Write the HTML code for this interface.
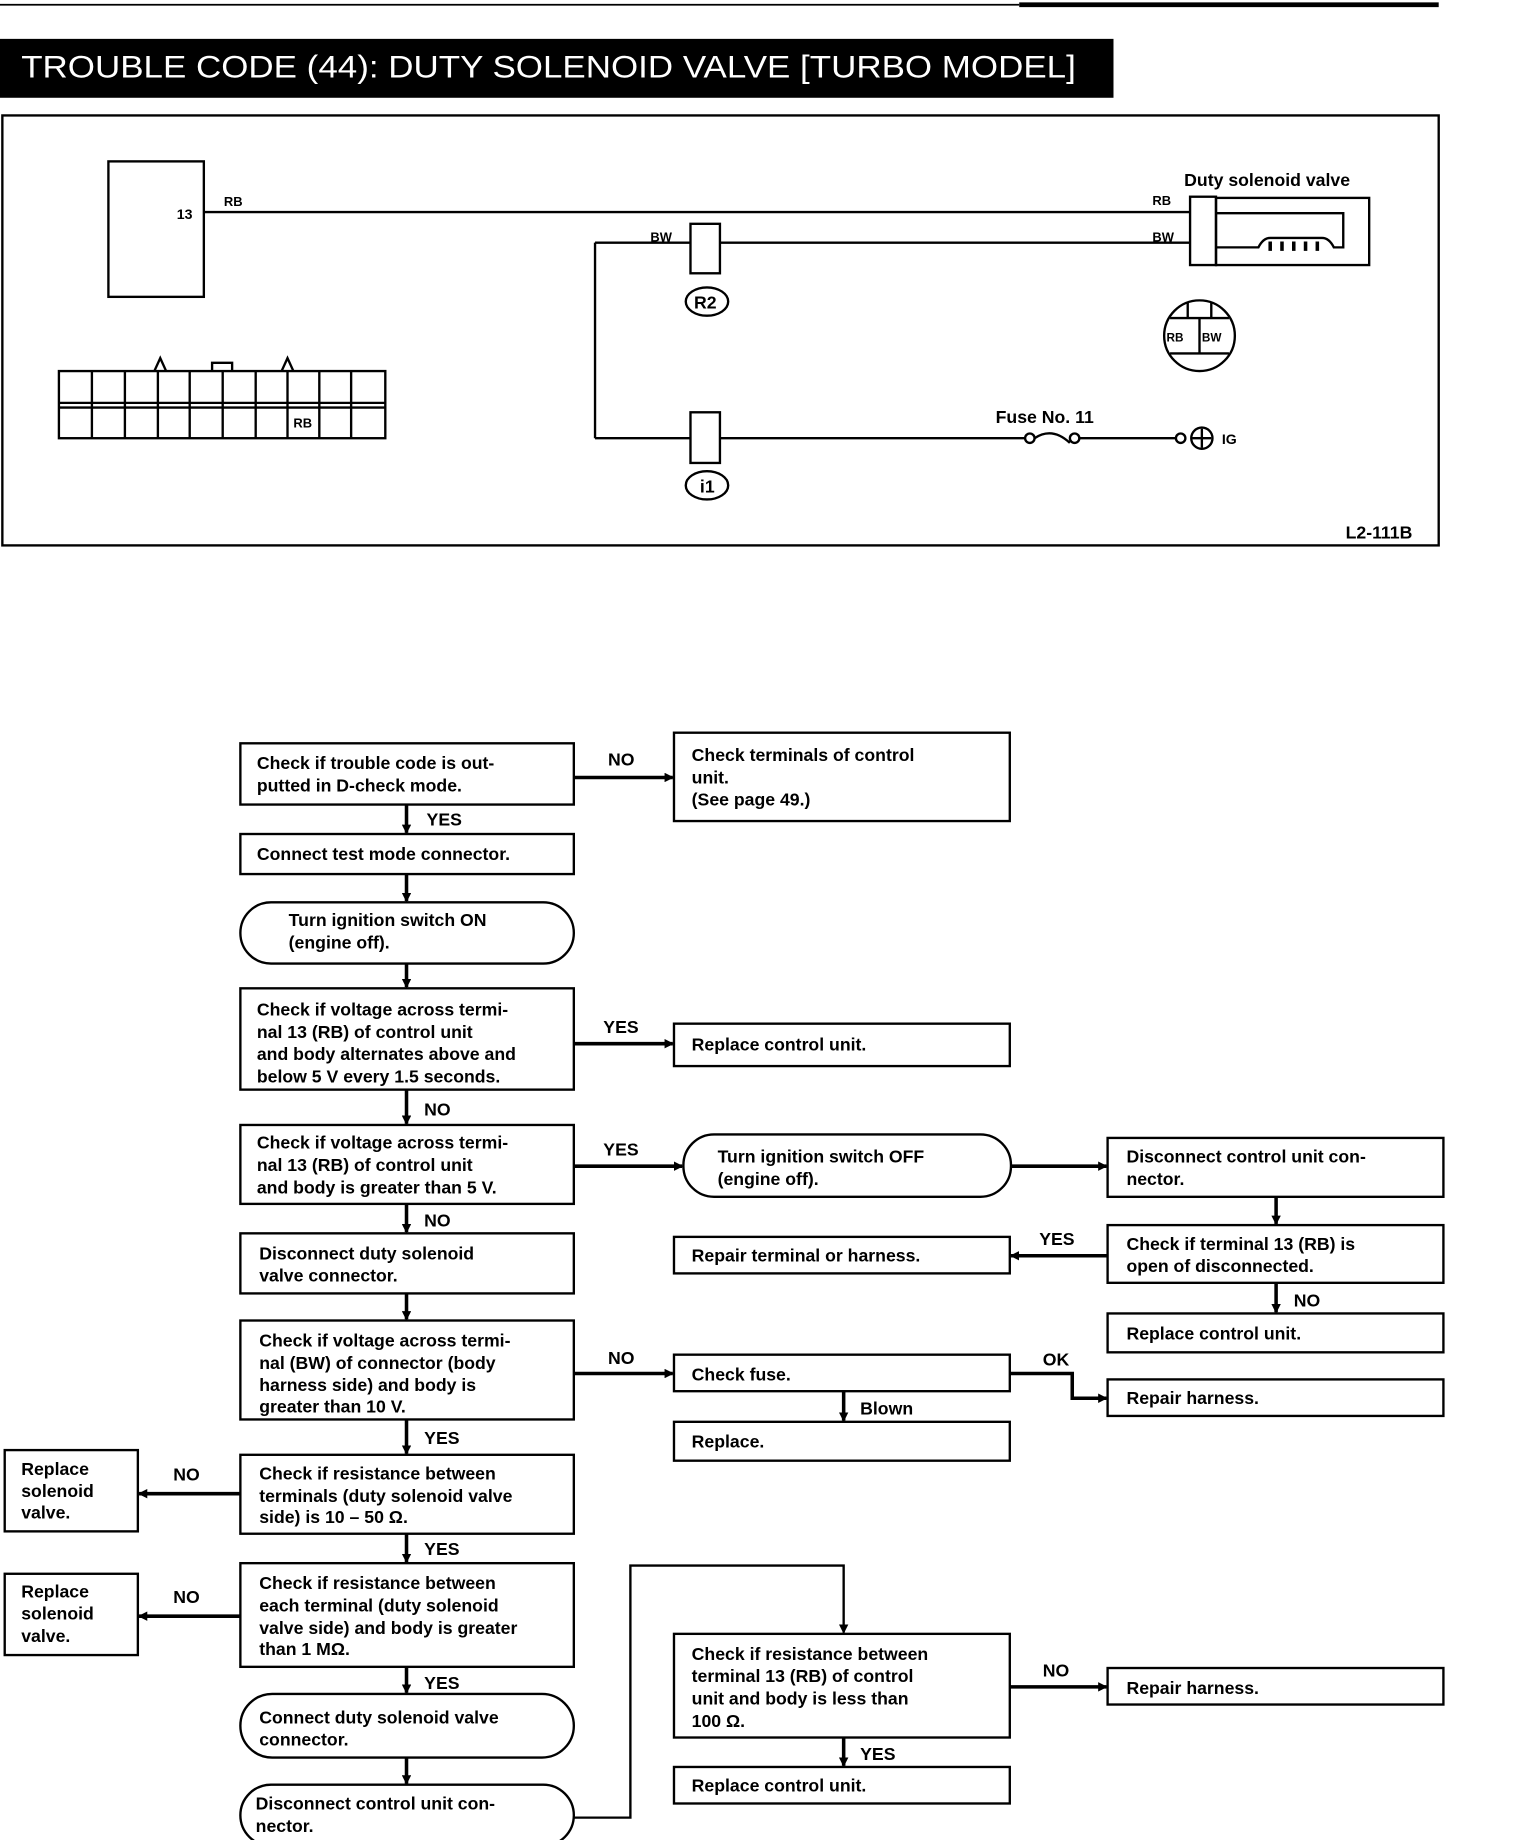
<!DOCTYPE html>
<html><head><meta charset="utf-8"><style>
html,body{margin:0;padding:0;background:#fff;}
svg{display:block;}
text{font-family:"Liberation Sans",sans-serif;fill:#000;}
.t{font-size:15px;font-weight:bold;}
.s{font-size:12px;font-weight:bold;}
</style></head><body>
<svg width="1520" height="1840" viewBox="0 0 1290 1562" preserveAspectRatio="none" xmlns="http://www.w3.org/2000/svg">
<defs>
<marker id="a" markerWidth="8" markerHeight="8" refX="7" refY="4" orient="auto" markerUnits="userSpaceOnUse"><path d="M0,0 L8,4 L0,8 z" fill="#000"/></marker>
</defs>
<g stroke="#000" fill="none">
<line x1="0" y1="4" x2="865" y2="4" stroke-width="1.5"/>
<line x1="865" y1="4" x2="1221" y2="4" stroke-width="4"/>
</g>
<rect x="0" y="33" width="945" height="50" fill="#000"/>
<text x="18" y="66" textLength="895" lengthAdjust="spacingAndGlyphs" style="font-size:27px;fill:#fff">TROUBLE CODE (44): DUTY SOLENOID VALVE [TURBO MODEL]</text>
<g stroke="#000" fill="none" stroke-width="2">
<rect x="2" y="98" width="1219" height="365"/>
<rect x="92" y="137" width="81" height="115"/>
<line x1="173" y1="180" x2="1010" y2="180"/>
<rect x="1010" y="167" width="22" height="58"/>
<rect x="1032" y="168" width="130" height="57"/>
<path d="M1032,181 H1140 V210 H1132 Q1128,202 1122,202 H1078 Q1072,202 1068,210 H1032"/>
<path d="M1078,205 v8 M1088,205 v8 M1098,205 v8 M1108,205 v8 M1118,205 v8" stroke-width="3"/>
<line x1="505" y1="206" x2="1010" y2="206"/>
<rect x="586" y="190" width="25" height="42" fill="#fff"/>
<ellipse cx="600" cy="256" rx="18" ry="12"/>
<line x1="505" y1="206" x2="505" y2="372"/>
<line x1="505" y1="372" x2="870" y2="372"/>
<rect x="586" y="350" width="25" height="43" fill="#fff"/>
<ellipse cx="600" cy="412" rx="18" ry="12"/>
<circle cx="874" cy="372" r="4" fill="#fff"/>
<path d="M878,372 Q893,362 908,376" />
<circle cx="912" cy="372" r="4" fill="#fff"/>
<line x1="916" y1="372" x2="998" y2="372"/>
<circle cx="1002" cy="372" r="4" fill="#fff"/>
<circle cx="1020" cy="372" r="9"/>
<path d="M1020,364 v16 M1012,372 h16"/>
<circle cx="1018" cy="285" r="30"/>
<path d="M993,270 H1043 M993,300 H1043 M1018,270 V300 M1008,256 v14 M1028,256 v14"/>
<rect x="50" y="315" width="277" height="57"/>
<line x1="50" y1="342" x2="327" y2="342" stroke-width="2"/>
<line x1="50" y1="346" x2="327" y2="346" stroke-width="2"/>
<path d="M78,315 V372 M106,315 V372 M134,315 V372 M161,315 V372 M189,315 V372 M217,315 V372 M244,315 V372 M271,315 V372 M298,315 V372"/>
<path d="M131,315 L136,304 L141,315 M239,315 L244,304 L249,315 M180,315 V308 H197 V315"/>
</g>
<text x="990" y="290" class="s" style="font-size:10px">RB</text><text x="1020" y="290" class="s" style="font-size:10px">BW</text>
<text x="150" y="186" class="s">13</text>
<text x="190" y="175" class="s" style="font-size:11px">RB</text>
<text x="1005" y="158" class="t">Duty solenoid valve</text>
<text x="978" y="174" class="s" style="font-size:11px">RB</text>
<text x="978" y="205" class="s" style="font-size:11px">BW</text>
<text x="552" y="205" class="s" style="font-size:11px">BW</text>
<text x="589" y="262" class="t">R2</text>
<text x="594" y="418" class="t">i1</text>
<text x="845" y="359" class="t">Fuse No. 11</text>
<text x="1037" y="377" class="s">IG</text>
<text x="249" y="363" class="s" style="font-size:11px">RB</text>
<text x="1142" y="457" class="t">L2-111B</text>

<g stroke="#000" fill="none" stroke-width="2">
<rect x="204" y="631" width="283" height="52"/>
<rect x="572" y="622" width="285" height="75"/>
<rect x="204" y="708" width="283" height="34"/>
<rect x="204" y="766" width="283" height="52" rx="26"/>
<rect x="204" y="839" width="283" height="86"/>
<rect x="572" y="869" width="285" height="36"/>
<rect x="204" y="955" width="283" height="67"/>
<rect x="580" y="963" width="278" height="53" rx="26"/>
<rect x="940" y="966" width="285" height="50"/>
<rect x="940" y="1040" width="285" height="49"/>
<rect x="572" y="1050" width="285" height="31"/>
<rect x="940" y="1115" width="285" height="33"/>
<rect x="204" y="1047" width="283" height="51"/>
<rect x="204" y="1121" width="283" height="84"/>
<rect x="572" y="1150" width="285" height="31"/>
<rect x="940" y="1171" width="285" height="31"/>
<rect x="572" y="1207" width="285" height="33"/>
<rect x="204" y="1235" width="283" height="67"/>
<rect x="4" y="1231" width="113" height="69"/>
<rect x="204" y="1327" width="283" height="88"/>
<rect x="4" y="1336" width="113" height="69"/>
<rect x="204" y="1438" width="283" height="54" rx="27"/>
<rect x="204" y="1515" width="283" height="52" rx="26"/>
<rect x="572" y="1387" width="285" height="88"/>
<rect x="940" y="1416" width="285" height="31"/>
<rect x="572" y="1500" width="285" height="31"/>
</g>
<g stroke="#000" fill="none" stroke-width="3" marker-end="url(#a)">
<line x1="487" y1="660" x2="571" y2="660"/>
<line x1="345" y1="683" x2="345" y2="707"/>
<line x1="345" y1="742" x2="345" y2="765"/>
<line x1="345" y1="818" x2="345" y2="838"/>
<line x1="487" y1="886" x2="571" y2="886"/>
<line x1="345" y1="925" x2="345" y2="954"/>
<line x1="487" y1="990" x2="579" y2="990"/>
<line x1="858" y1="990" x2="939" y2="990"/>
<line x1="1083" y1="1016" x2="1083" y2="1039"/>
<line x1="940" y1="1066" x2="858" y2="1066"/>
<line x1="1083" y1="1089" x2="1083" y2="1114"/>
<line x1="345" y1="1022" x2="345" y2="1046"/>
<line x1="345" y1="1098" x2="345" y2="1120"/>
<line x1="487" y1="1166" x2="571" y2="1166"/>
<polyline points="857,1166 910,1166 910,1187 939,1187"/>
<line x1="716" y1="1181" x2="716" y2="1206"/>
<line x1="345" y1="1205" x2="345" y2="1234"/>
<line x1="204" y1="1268" x2="118" y2="1268"/>
<line x1="345" y1="1302" x2="345" y2="1326"/>
<line x1="204" y1="1372" x2="118" y2="1372"/>
<line x1="345" y1="1415" x2="345" y2="1437"/>
<line x1="345" y1="1492" x2="345" y2="1514"/>
<polyline points="487,1543 535,1543 535,1329 716,1329 716,1386" stroke-width="2"/>
<line x1="857" y1="1432" x2="939" y2="1432"/>
<line x1="716" y1="1475" x2="716" y2="1499"/>
</g>
<g class="t">
<text x="218" y="653" class="t">Check if trouble code is out-</text>
<text x="218" y="672" class="t">putted in D-check mode.</text>
<text x="516" y="650" class="t">NO</text>
<text x="587" y="646" class="t">Check terminals of control</text>
<text x="587" y="665" class="t">unit.</text>
<text x="587" y="684" class="t">(See page 49.)</text>
<text x="362" y="701" class="t">YES</text>
<text x="218" y="730" class="t">Connect test mode connector.</text>
<text x="245" y="786" class="t">Turn ignition switch ON</text>
<text x="245" y="805" class="t">(engine off).</text>
<text x="218" y="862" class="t">Check if voltage across termi-</text>
<text x="218" y="881" class="t">nal 13 (RB) of control unit</text>
<text x="218" y="900" class="t">and body alternates above and</text>
<text x="218" y="919" class="t">below 5 V every 1.5 seconds.</text>
<text x="512" y="877" class="t">YES</text>
<text x="587" y="892" class="t">Replace control unit.</text>
<text x="360" y="947" class="t">NO</text>
<text x="218" y="975" class="t">Check if voltage across termi-</text>
<text x="218" y="994" class="t">nal 13 (RB) of control unit</text>
<text x="218" y="1013" class="t">and body is greater than 5 V.</text>
<text x="512" y="981" class="t">YES</text>
<text x="609" y="987" class="t">Turn ignition switch OFF</text>
<text x="609" y="1006" class="t">(engine off).</text>
<text x="956" y="987" class="t">Disconnect control unit con-</text>
<text x="956" y="1006" class="t">nector.</text>
<text x="360" y="1041" class="t">NO</text>
<text x="220" y="1069" class="t">Disconnect duty solenoid</text>
<text x="220" y="1088" class="t">valve connector.</text>
<text x="882" y="1057" class="t">YES</text>
<text x="587" y="1071" class="t">Repair terminal or harness.</text>
<text x="956" y="1061" class="t">Check if terminal 13 (RB) is</text>
<text x="956" y="1080" class="t">open of disconnected.</text>
<text x="1098" y="1109" class="t">NO</text>
<text x="956" y="1137" class="t">Replace control unit.</text>
<text x="220" y="1143" class="t">Check if voltage across termi-</text>
<text x="220" y="1162" class="t">nal (BW) of connector (body</text>
<text x="220" y="1181" class="t">harness side) and body is</text>
<text x="220" y="1199" class="t">greater than 10 V.</text>
<text x="516" y="1158" class="t">NO</text>
<text x="587" y="1172" class="t">Check fuse.</text>
<text x="885" y="1159" class="t">OK</text>
<text x="956" y="1192" class="t">Repair harness.</text>
<text x="730" y="1201" class="t">Blown</text>
<text x="587" y="1229" class="t">Replace.</text>
<text x="360" y="1226" class="t">YES</text>
<text x="220" y="1256" class="t">Check if resistance between</text>
<text x="220" y="1275" class="t">terminals (duty solenoid valve</text>
<text x="220" y="1293" class="t">side) is 10 – 50 Ω.</text>
<text x="147" y="1257" class="t">NO</text>
<text x="18" y="1252" class="t">Replace</text>
<text x="18" y="1271" class="t">solenoid</text>
<text x="18" y="1289" class="t">valve.</text>
<text x="360" y="1320" class="t">YES</text>
<text x="220" y="1349" class="t">Check if resistance between</text>
<text x="220" y="1368" class="t">each terminal (duty solenoid</text>
<text x="220" y="1387" class="t">valve side) and body is greater</text>
<text x="220" y="1405" class="t">than 1 MΩ.</text>
<text x="147" y="1361" class="t">NO</text>
<text x="18" y="1356" class="t">Replace</text>
<text x="18" y="1375" class="t">solenoid</text>
<text x="18" y="1394" class="t">valve.</text>
<text x="360" y="1434" class="t">YES</text>
<text x="220" y="1463" class="t">Connect duty solenoid valve</text>
<text x="220" y="1482" class="t">connector.</text>
<text x="217" y="1536" class="t">Disconnect control unit con-</text>
<text x="217" y="1555" class="t">nector.</text>
<text x="587" y="1409" class="t">Check if resistance between</text>
<text x="587" y="1428" class="t">terminal 13 (RB) of control</text>
<text x="587" y="1447" class="t">unit and body is less than</text>
<text x="587" y="1466" class="t">100 Ω.</text>
<text x="885" y="1423" class="t">NO</text>
<text x="956" y="1438" class="t">Repair harness.</text>
<text x="730" y="1494" class="t">YES</text>
<text x="587" y="1521" class="t">Replace control unit.</text>
</g>
</svg>
</body></html>
